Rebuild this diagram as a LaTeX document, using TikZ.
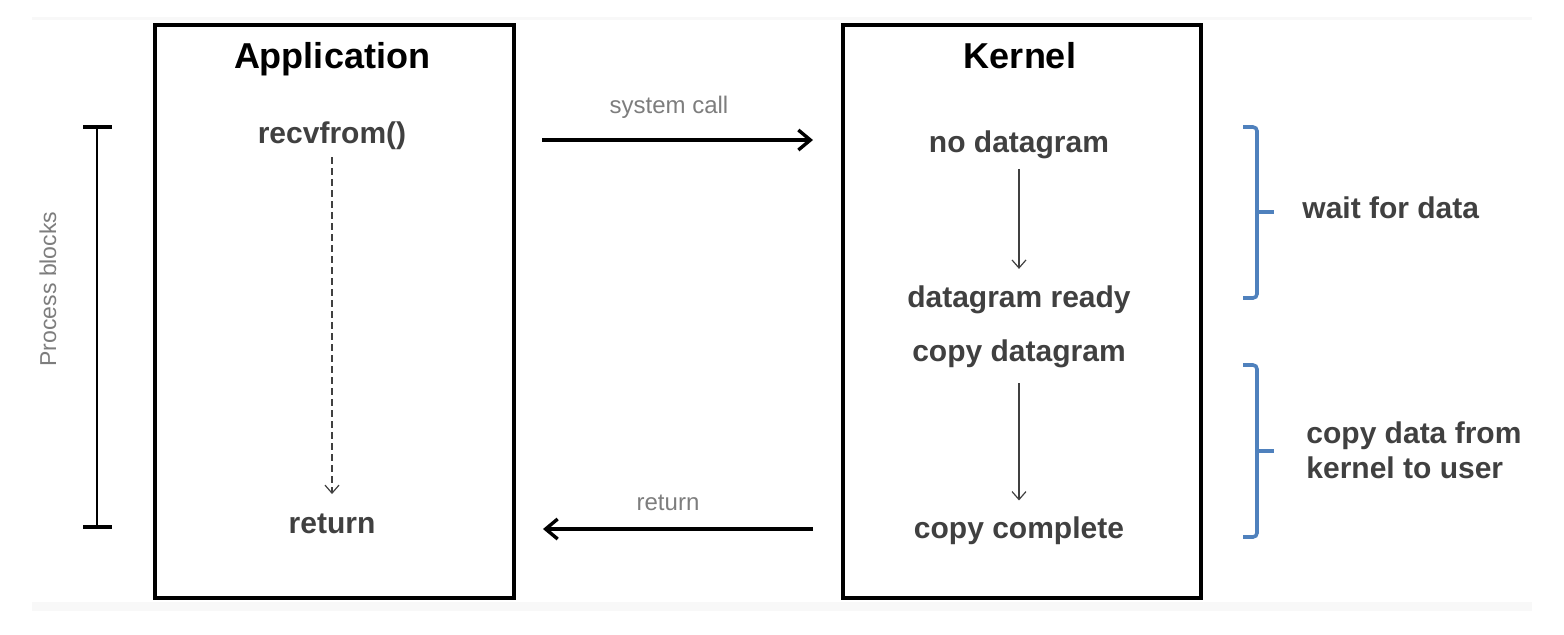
\documentclass[tikz,border=0pt]{standalone}
\usepackage{fontspec}
\setmainfont{Liberation Sans}
\usetikzlibrary{arrows.meta}

\definecolor{txtgray}{RGB}{64,64,64}
\definecolor{lblgray}{RGB}{125,125,125}
\definecolor{braceblue}{RGB}{79,129,189}
\definecolor{bandgray}{RGB}{248,248,248}

\begin{document}
\begin{tikzpicture}[x=0.5pt,y=0.5pt]
\tikzstyle{every node}+=[inner sep=0pt]
\tikzstyle{title}=[font=\fontsize{18}{20}\selectfont\bfseries, anchor=base]
\tikzstyle{item}=[font=\fontsize{15}{17.5}\selectfont\bfseries, text=txtgray, anchor=base]
\tikzstyle{note}=[font=\fontsize{12}{14}\selectfont, text=lblgray, anchor=base]
\tikzstyle{box}=[black, line width=2.2pt]
\tikzstyle{bigarrow}=[black, line width=1.7pt, -{Straight Barb[length=6pt,width=10pt]}]
\tikzstyle{thinarrow}=[txtgray, line width=0.6pt, -{Straight Barb[length=4pt,width=7pt]}]
\tikzstyle{brace}=[braceblue, line width=1.8pt, rounded corners=2pt]
\useasboundingbox (0,0) rectangle (1564,-634);
\fill [bandgray] (32,-17) rectangle (1532,-20);
\fill [bandgray] (32,-602) rectangle (1532,-611);
\draw [box] (155,-25) rectangle (514,-598);
\draw [box] (843,-25) rectangle (1201,-598);
\node (apptitle) [title] at (332,-68.5) {Application};
\node (kertitle) [title] at (1020,-68.5) {Kernel};
\node (recv) [item] at (332,-143) {recvfrom()};
\node (appret) [item] at (332,-533) {return};
\draw [txtgray, line width=0.6pt, dash pattern=on 3.5pt off 2pt, -{Straight Barb[length=4pt,width=7pt]}, shorten <=3.9pt, shorten >=9.5pt] (recv) -- (appret);
\node (nodg) [item] at (1019,-152) {no datagram};
\node (dgready) [item] at (1019,-307) {datagram ready};
\node (copydg) [item] at (1019,-361) {copy datagram};
\node (copydone) [item] at (1019,-538) {copy complete};
\draw [thinarrow, shorten <=5pt, shorten >=8pt] (nodg) -- (dgready);
\draw [thinarrow, shorten <=7.8pt, shorten >=7.7pt] (copydg) -- (copydone);
\coordinate (callstart) at (542,-140);
\coordinate (callend) at (813,-140);
\draw [bigarrow] (callstart) -- (callend);
\node (calllbl) [note] at (669,-113) {system call};
\coordinate (retstart) at (813,-529);
\coordinate (retend) at (543,-529);
\draw [bigarrow] (retstart) -- (retend);
\node (retlbl) [note] at (668,-510) {return};
\coordinate (blocktop) at (97,-127);
\coordinate (blockbot) at (97,-527);
\draw [black, line width=0.6pt] (blocktop) -- (blockbot);
\draw [black, line width=1.6pt] (83,-127) -- (112,-127);
\draw [black, line width=1.6pt] (83,-527) -- (112,-527);
\node (blocklbl) [note, font=\fontsize{11.5}{13}\selectfont, rotate=90, anchor=center] at (48,-289) {Process blocks};
\draw [brace] (1243,-127) -- (1257,-127) -- (1257,-298) -- (1243,-298);
\draw [brace] (1257,-212) -- (1274,-212);
\node (waitlbl) [item, anchor=base west] at (1302,-218) {wait for data};
\draw [brace] (1243,-365) -- (1257,-365) -- (1257,-537) -- (1243,-537);
\draw [brace] (1257,-451) -- (1274,-451);
\node (copylbl) [item, anchor=base west, align=left] at (1306,-478) {copy data from\\kernel to user};
\end{tikzpicture}
\end{document}
